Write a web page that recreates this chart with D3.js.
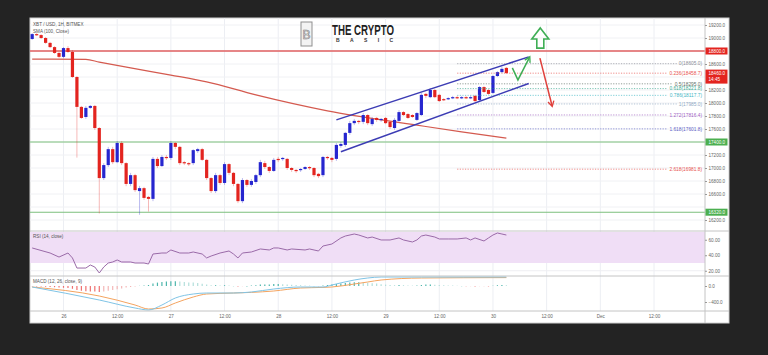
<!DOCTYPE html>
<html><head><meta charset="utf-8">
<script src="https://cdn.jsdelivr.net/npm/d3@7/dist/d3.min.js"></script>
<style>
html,body{margin:0;padding:0;background:#232323;overflow:hidden}
svg{display:block}
text{font-family:"Liberation Sans",Arial,sans-serif}
</style></head>
<body><svg id="chart" width="768" height="355"></svg>
<script>
// ================= DATA =================
const firstCandle = "2020-11-25T17:00:00Z"; // XBT/USD 1H candles
const opens  = [18985,19060,19045,19000,18925,18860,18770,18710,18845,18785,18400,17940,17785,17925,17955,17615,16845,17045,17290,17090,17385,17075,16755,16890,16645,16690,16555,16525,17140,17030,17170,17155,17385,17325,17090,17075,17075,17260,17290,17125,16845,16645,16890,16770,17060,16925,16755,16490,16815,16740,16785,16890,17075,17015,16955,17140,17140,17140,17000,16970,16970,16985,17015,17000,16910,16890,17170,17155,17140,17340,17355,17540,17690,17725,17710,17815,17675,17770,17740,17770,17710,17615,17725,17860,17830,17815,17740,17815,18140,18090,18200,18125,18060,18060,18075,18090,18075,18090,18075,18110,18045,18245,18200,18155,18415,18475,18540];
const highs  = [19075,19075,19060,19015,18940,18875,18785,18860,18875,18815,18415,17955,17955,17970,17970,17630,17075,17325,17325,17415,17415,17090,16925,16910,16725,16710,16570,17170,17170,17200,17200,17415,17400,17340,17110,17090,17290,17310,17310,17140,16860,16925,16910,17090,17075,16940,16770,16845,16830,16830,16910,17125,17110,17030,17155,17170,17170,17155,17015,16985,17000,17030,17030,17015,16925,17185,17185,17170,17385,17400,17555,17725,17755,17740,17845,17830,17785,17785,17770,17785,17725,17770,17890,17875,17845,17830,17860,18155,18155,18230,18215,18140,18075,18090,18110,18110,18110,18110,18110,18125,18260,18260,18215,18430,18490,18555,18555];
const lows   = [18970,19030,18985,18910,18845,18755,18690,18690,18770,18385,17160,17755,17755,17910,17585,16300,16815,17015,17060,17075,17045,16720,16720,16630,16280,16510,16330,16490,17000,17015,17125,17125,17290,17045,17045,17030,17045,17230,17110,16815,16615,16615,16740,16740,16890,16720,16460,16460,16710,16710,16755,16860,16985,16925,16940,17090,17110,16970,16940,16925,16940,16970,16970,16860,16845,16860,17125,17090,17110,17310,17325,17510,17660,17675,17675,17660,17645,17710,17710,17675,17600,17585,17710,17800,17755,17770,17725,17800,18075,18075,18075,18015,18030,18045,18060,18060,18060,18060,18060,18015,18030,18155,18125,18140,18400,18460,18445];
const closes = [19060,19045,19000,18925,18860,18770,18710,18845,18785,18400,17940,17770,17925,17955,17615,16845,17045,17290,17090,17385,17075,16755,16890,16660,16690,16540,16525,17140,17030,17170,17155,17385,17325,17075,17075,17060,17275,17290,17125,16845,16645,16890,16770,17060,16925,16755,16490,16815,16740,16800,16890,17090,17015,16955,17125,17125,17155,17000,16970,16955,16985,17015,17000,16890,16875,17170,17155,17125,17355,17370,17540,17690,17725,17710,17815,17690,17755,17740,17755,17690,17630,17740,17860,17815,17770,17785,17845,18125,18110,18200,18090,18030,18045,18075,18090,18075,18090,18075,18090,18030,18245,18170,18140,18415,18475,18525,18460];

const priceTicks  = [16200,16400,16600,16800,17000,17200,17400,17600,17800,18000,18200,18400,18600,18800,19000,19200];
const xTickTimes  = ["2020-11-26T00:00:00Z","2020-11-26T12:00:00Z","2020-11-27T00:00:00Z","2020-11-27T12:00:00Z","2020-11-28T00:00:00Z","2020-11-28T12:00:00Z","2020-11-29T00:00:00Z","2020-11-29T12:00:00Z","2020-11-30T00:00:00Z","2020-11-30T12:00:00Z","2020-12-01T00:00:00Z","2020-12-01T12:00:00Z"];
const xTickLabels = ["26","12:00","27","12:00","28","12:00","29","12:00","30","12:00","Dec","12:00"];

const resistanceLevel = 18800;
const supportLevels   = [17400, 16320];
const lastPrice = 18460;
const countdown = "14:45";

const fibRatios = [0, 0.236, 0.5, 0.618, 0.786, 1, 1.272, 1.618, 2.618];
const fibColors = ["#8a8d96","#e8534f","#5e6e66","#3aa98f","#3fb6c4","#8fa9c4","#a262c4","#5d62c6","#e8534f"];
const fibStart = 18605, fibEnd = 17985;

// hours are counted from 2020-11-26 00:00
const smaHours  = [-7, 5, 8, 15, 24, 32, 43, 59, 79, 89, 99];
const smaValues = [18675,18670,18630,18540,18430,18325,18125,17880,17660,17555,17460];

const rsiHours  = [-7,-3,-1,1,2,3,5,6,7,8,9,10,11,12,13,15,16,18,19,20,22,23,24,26,28,29,31,32,33,35,37,38,39,40,42,44,46,47,48,50,51,54,55,57,58,60,62,63,65,66,68,69,71,73,75,76,78,79,80,81,83,84,86,88,90,91,92,94,95,96,97,98,99];
const rsiValues = [49.4,42.9,37.7,42.9,36.5,23.5,23.5,27.4,24.8,17.1,24.8,30,31.3,33.9,31.3,31.3,30,30,28.7,41.6,42.9,42.9,46.8,42.9,42.9,44.2,41.6,36.5,39,42.9,45.5,41.6,36.5,42.9,44.2,48.1,46.8,49.4,49.4,46.8,48.1,46.8,48.1,45.5,51.9,54.5,62.3,64.8,67.4,66.1,62.3,63.5,59.7,59.7,62.3,59.7,57.1,59.7,64.8,66.1,63.5,61,61,61,62.3,59.7,62.3,58.4,62.3,66.1,68.7,67.4,66.1];
const rsiTicks = [20, 40, 60];
const rsiBand  = [30, 70];

const macdHours    = [-7, 8, 16, 19, 22, 25, 29, 32, 38, 42, 47, 53, 58, 60, 65, 68, 71, 80, 99];
const macdValues   = [-25,-350,-550,-600,-475,-300,-200,-175,-175,-150,-75,-25,-25,25,150,200,225,225,225];
const signalValues = [-25,-250,-475,-575,-550,-425,-275,-200,-175,-160,-125,-50,-35,-25,50,100,150,200,210];
const histValues = [-5,-10,-15,-20,-25,-30,-40,
  -45,-50,-70,-100,-120,-130,-135,-140,-150,-140,-120,
  -100,-80,-60,-40,-25,-10,5,15,25,
  60,85,100,110,120,120,110,100,90,85,75,55,35,20,
  20,15,20,10,0,-15,-5,0,10,20,35,40,
  40,50,50,45,35,30,25,20,15,10,0,-5,
  15,25,35,50,60,75,90,95,95,90,80,70,60,
  45,35,25,20,25,20,15,10,10,25,35,35,30,25,20,
  15,10,5,0,-5,-5,-10,-5,-5,-10,5,20,25,20];
const macdTicks = [-400, 0];

const channelUpper = [["2020-11-28T13:00:00Z",17740],["2020-11-30T08:00:00Z",18710]];
const channelLower = [["2020-11-28T14:00:00Z",17250],["2020-11-30T08:00:00Z",18300]];
const greenPath = [["2020-11-30T04:20:00Z",18540],["2020-11-30T05:35:00Z",18355],["2020-11-30T08:05:00Z",18690]];
const redPath   = [["2020-11-30T10:30:00Z",18690],["2020-11-30T13:10:00Z",17970]];
const bigArrow  = {time:"2020-11-30T10:35:00Z", tip:19155, base:18985, bottom:18845};

// ================= LAYOUT =================
const P = {l:30, r:705, right:729, top:18, mainB:231, rsiB:276, macdB:311, bottom:323};
const svg = d3.select("#chart");
const HOUR = 3600e3;
const t0 = Date.parse("2020-11-26T00:00:00Z");
const hourTime = h => new Date(t0 + h*HOUR);
const candleTime = i => new Date(Date.parse(firstCandle) + i*HOUR);

const x  = d3.scaleUtc().domain([new Date(xTickTimes[0]), new Date(xTickTimes[xTickTimes.length-1])]).range([63.5, 654]);
const yP = d3.scaleLinear().domain([16200, 19200]).range([220, 25]);
const yR = d3.scaleLinear().domain([30, 70]).range([263, 232]);
const yM = d3.scaleLinear().domain([-400, 0]).range([302, 286]);

svg.append("rect").attr("width",768).attr("height",355).attr("fill","#232323");
svg.append("rect").attr("x",P.l).attr("y",P.top).attr("width",P.right-P.l).attr("height",P.bottom-P.top)
  .attr("fill","#fff").attr("stroke","#cfcfcf").attr("stroke-width",1);

const defs = svg.append("defs");
defs.append("clipPath").attr("id","mainClip").append("rect")
  .attr("x",P.l).attr("y",P.top).attr("width",P.r-P.l).attr("height",P.mainB-P.top);
defs.append("clipPath").attr("id","plotClip").append("rect")
  .attr("x",P.l).attr("y",P.top).attr("width",P.r-P.l).attr("height",P.macdB-P.top);

// grid
const grid = svg.append("g");
grid.selectAll("line.v").data(xTickTimes).join("line")
  .attr("x1",d=>x(new Date(d))).attr("x2",d=>x(new Date(d)))
  .attr("y1",P.top).attr("y2",P.macdB).attr("stroke","#eceef3").attr("stroke-width",1);
grid.selectAll("line.h").data(priceTicks).join("line")
  .attr("x1",P.l).attr("x2",P.r).attr("y1",d=>yP(d)).attr("y2",d=>yP(d))
  .attr("stroke","#f0f1f4").attr("stroke-width",1);

// ---- RSI pane ----
svg.append("rect").attr("x",P.l).attr("width",P.r-P.l)
  .attr("y",yR(rsiBand[1])).attr("height",yR(rsiBand[0])-yR(rsiBand[1])).attr("fill","#f0def6");
grid.selectAll("line.r").data(rsiTicks).join("line")
  .attr("x1",P.l).attr("x2",P.r).attr("y1",d=>yR(d)).attr("y2",d=>yR(d)).attr("stroke","#eeeef2");
svg.append("path").datum(rsiHours.map((h,i)=>[h,rsiValues[i]]))
  .attr("d",d3.line().x(d=>x(hourTime(d[0]))).y(d=>yR(d[1])))
  .attr("fill","none").attr("stroke","#9a6aa8").attr("stroke-width",1);

// ---- MACD pane ----
const mg = svg.append("g").attr("clip-path","url(#plotClip)");
mg.selectAll("line.hist").data(histValues).join("line")
  .attr("x1",(d,i)=>x(candleTime(i))).attr("x2",(d,i)=>x(candleTime(i)))
  .attr("y1",yM(0)).attr("y2",d=>yM(d)+(d===0?0.5:0))
  .attr("stroke",(d,i)=>{const p=i?histValues[i-1]:0; return d>=0?(d>=p?"#4db6ac":"#b2dfdb"):(d<p?"#ef7070":"#f4b6b6");})
  .attr("stroke-width",1.2);
mg.append("path").datum(macdHours.map((h,i)=>[h,signalValues[i]]))
  .attr("d",d3.line().curve(d3.curveMonotoneX).x(d=>x(hourTime(d[0]))).y(d=>yM(d[1])))
  .attr("fill","none").attr("stroke","#f4a460").attr("stroke-width",1);
mg.append("path").datum(macdHours.map((h,i)=>[h,macdValues[i]]))
  .attr("d",d3.line().curve(d3.curveMonotoneX).x(d=>x(hourTime(d[0]))).y(d=>yM(d[1])))
  .attr("fill","none").attr("stroke","#7fc4e6").attr("stroke-width",1);

// ---- main pane ----
const main = svg.append("g").attr("clip-path","url(#mainClip)");
main.append("line").attr("x1",P.l).attr("x2",P.r).attr("y1",yP(resistanceLevel)).attr("y2",yP(resistanceLevel))
  .attr("stroke","#e06060").attr("stroke-width",1.4);
main.selectAll("line.sup").data(supportLevels).join("line")
  .attr("x1",P.l).attr("x2",P.r).attr("y1",d=>yP(d)).attr("y2",d=>yP(d))
  .attr("stroke","#7cbf7c").attr("stroke-width",1.1);

// SMA
main.append("path").datum(smaHours.map((h,i)=>[h,smaValues[i]]))
  .attr("d",d3.line().curve(d3.curveMonotoneX).x(d=>x(hourTime(d[0]))).y(d=>yP(d[1])))
  .attr("fill","none").attr("stroke","#d45a4f").attr("stroke-width",1.2);

// fib levels
const fibG = svg.append("g");
fibRatios.forEach((r,k)=>{
  const price = fibStart - r*(fibStart-fibEnd);
  const yy = yP(price);
  const txt = fibG.append("text").attr("x",702).attr("y",yy+1.7).attr("text-anchor","end")
    .attr("font-size",4.8).attr("fill",fibColors[k]).text(`${r}(${price.toFixed(1)})`);
  const w = txt.node().getComputedTextLength();
  fibG.insert("line","text").attr("x1",x(hourTime(88))).attr("x2",702-w-2).attr("y1",yy).attr("y2",yy)
    .attr("stroke",fibColors[k]).attr("stroke-opacity",0.75).attr("stroke-width",0.9).attr("stroke-dasharray","1.2,1.4");
});

// candles
const candles = opens.map((o,i)=>({t:candleTime(i),o,h:highs[i],l:lows[i],c:closes[i]}));
const cg = main.append("g");
const upC = "#2626cf", dnC = "#e3241f";
cg.selectAll("line.wick").data(candles).join("line")
  .attr("x1",d=>x(d.t)).attr("x2",d=>x(d.t)).attr("y1",d=>yP(d.h)).attr("y2",d=>yP(d.l))
  .attr("stroke",d=>d.c>=d.o?upC:dnC).attr("stroke-opacity",0.45).attr("stroke-width",0.7);
cg.selectAll("rect").data(candles).join("rect")
  .attr("x",d=>x(d.t)-1.6).attr("width",3.2)
  .attr("y",d=>yP(Math.max(d.o,d.c))).attr("height",d=>Math.max(1.2,Math.abs(yP(d.o)-yP(d.c))))
  .attr("fill",d=>d.c>=d.o?upC:dnC);

// channel
[channelUpper, channelLower].forEach(seg=>{
  svg.append("line").attr("x1",x(new Date(seg[0][0]))).attr("y1",yP(seg[0][1]))
    .attr("x2",x(new Date(seg[1][0]))).attr("y2",yP(seg[1][1]))
    .attr("stroke","#3c3cb4").attr("stroke-width",1.5);
});

// arrows
function head(id,color){
  defs.append("marker").attr("id",id).attr("viewBox","0 0 10 10").attr("refX",6).attr("refY",5)
    .attr("markerWidth",5).attr("markerHeight",5).attr("orient","auto-start-reverse")
    .append("path").attr("d","M1,1 L8,5 L1,9").attr("fill","none").attr("stroke",color).attr("stroke-width",1.8);
}
head("gh","#3fae55"); head("rh","#e0403c");
const lineXY = d3.line().x(d=>x(new Date(d[0]))).y(d=>yP(d[1]));
svg.append("path").attr("d",lineXY(greenPath)).attr("fill","none").attr("stroke","#3fae55")
  .attr("stroke-width",1.5).attr("marker-end","url(#gh)");
svg.append("path").attr("d",lineXY(redPath)).attr("fill","none").attr("stroke","#e0403c")
  .attr("stroke-width",1.5).attr("marker-end","url(#rh)");
{
  const cx = x(new Date(bigArrow.time)), yt = yP(bigArrow.tip), yb = yP(bigArrow.base), ybt = yP(bigArrow.bottom);
  svg.append("path").attr("d",`M${cx},${yt} L${cx+8.5},${yb} L${cx+3.5},${yb} L${cx+3.5},${ybt} L${cx-3.5},${ybt} L${cx-3.5},${yb} L${cx-8.5},${yb} Z`)
    .attr("fill","none").attr("stroke","#3fae55").attr("stroke-width",1.6).attr("stroke-linejoin","miter");
}

// pane separators
[P.mainB, P.rsiB, P.macdB].forEach(yy=>svg.append("line").attr("x1",P.l).attr("x2",P.right).attr("y1",yy).attr("y2",yy)
  .attr("stroke","#c4c4c4").attr("stroke-width",1));
svg.append("line").attr("x1",P.r).attr("x2",P.r).attr("y1",P.top).attr("y2",P.bottom).attr("stroke","#c4c4c4");

// ---- axes ----
const boxed = [[resistanceLevel,1],[lastPrice,2],...supportLevels.map(s=>[s,1])];
const hidden = v => boxed.some(([p,n])=>{const yy=yP(p); const ty=yP(v); return ty>yy-7 && ty<yy-3.5+7*n+3;});
const axisTxt = sel => sel.attr("font-size",4.6).attr("fill","#666");
const pa = svg.append("g").attr("transform",`translate(${P.r},0)`)
  .call(d3.axisRight(yP).tickValues(priceTicks.filter(v=>!hidden(v))).tickSize(2).tickFormat(d3.format(".1f")));
pa.select(".domain").remove();
pa.selectAll("line").attr("stroke","#999");
pa.selectAll("text").call(axisTxt).attr("x",3.5).attr("font-family","Liberation Sans, Arial");

const ra = svg.append("g").attr("transform",`translate(${P.r},0)`)
  .call(d3.axisRight(yR).tickValues(rsiTicks).tickSize(2).tickFormat(d3.format(".2f")));
ra.select(".domain").remove(); ra.selectAll("line").attr("stroke","#999");
ra.selectAll("text").call(axisTxt).attr("x",3.5).attr("font-family","Liberation Sans, Arial");

const ma = svg.append("g").attr("transform",`translate(${P.r},0)`)
  .call(d3.axisRight(yM).tickValues(macdTicks).tickSize(2).tickFormat(d3.format(".1f")));
ma.select(".domain").remove(); ma.selectAll("line").attr("stroke","#999");
ma.selectAll("text").call(axisTxt).attr("x",3.5).attr("font-family","Liberation Sans, Arial");

const xa = svg.append("g").attr("transform",`translate(0,${P.macdB})`)
  .call(d3.axisBottom(x).tickValues(xTickTimes.map(d=>new Date(d))).tickSize(0)
    .tickFormat((d,i)=>xTickLabels[i]));
xa.select(".domain").remove();
xa.selectAll("text").call(axisTxt).attr("dy","0").attr("y",7).attr("font-family","Liberation Sans, Arial");

// price boxes
function box(price, color, lines){
  const yy = yP(price), h = 7*lines.length;
  svg.append("rect").attr("x",P.r+0.5).attr("y",yy-3.5).attr("width",22).attr("height",h).attr("fill",color);
  lines.forEach((s,k)=>svg.append("text").attr("x",P.r+3.5).attr("y",yy+1.7+k*6.5)
    .attr("font-size",4.6).attr("fill","#fff").text(s));
}
box(resistanceLevel,"#e3241f",[d3.format(".1f")(resistanceLevel)]);
box(lastPrice,"#e3241f",[d3.format(".1f")(lastPrice), countdown]);
supportLevels.forEach(s=>box(s,"#4caf50",[d3.format(".1f")(s)]));

// ---- titles ----
const lbl = (xx,yy,s)=>svg.append("text").attr("x",xx).attr("y",yy).attr("font-size",4.6).attr("fill","#555").text(s);
lbl(33,25.5,"XBT / USD, 1H, BITMEX");
lbl(33,32.5,"SMA (100, Close)");
lbl(33,238,"RSI (14, close)");
lbl(33,282.5,"MACD (12, 26, close, 9)");

// ---- logo ----
const logo = svg.append("g");
logo.append("rect").attr("x",301).attr("y",22).attr("width",11).attr("height",24)
  .attr("fill","#f3f3f3").attr("stroke","#8f8f8f").attr("stroke-width",1);
logo.append("text").attr("x",306.5).attr("y",38.5).attr("text-anchor","middle")
  .attr("font-family","Liberation Serif, serif").attr("font-size",12).attr("fill","none")
  .attr("stroke","#7a7a7a").attr("stroke-width",0.6).text("B");
logo.append("text").attr("x",332).attr("y",35).attr("textLength",62).attr("lengthAdjust","spacingAndGlyphs")
  .attr("font-family","Liberation Serif, serif").attr("font-weight","bold").attr("font-size",14.5)
  .attr("fill","#1e1e1e").text("THE CRYPTO");
logo.append("text").attr("x",336).attr("y",42.3).attr("textLength",57).attr("lengthAdjust","spacing")
  .attr("font-family","Liberation Serif, serif").attr("font-weight","bold").attr("font-size",5)
  .attr("fill","#333").text("BASIC");
</script></body></html>
